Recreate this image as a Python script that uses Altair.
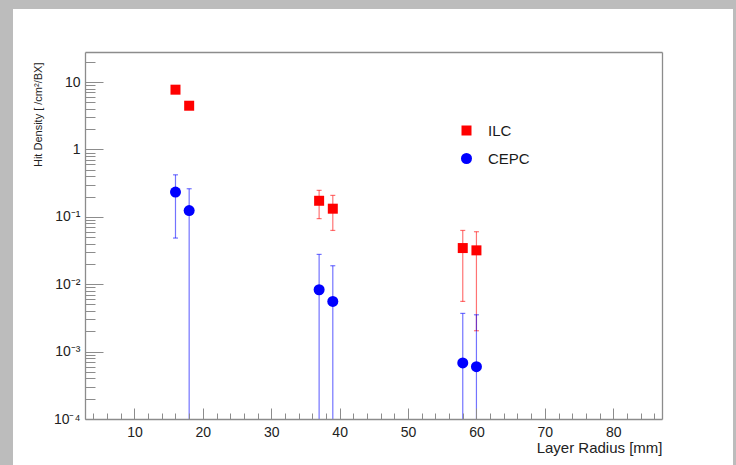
import altair as alt
import pandas as pd

# ---- data ----
radius = [16, 18, 37, 39, 58, 60]
ilc_density = [7.7, 4.45, 0.173, 0.132, 0.0344, 0.0318]
ilc_low = [7.7, 4.45, 0.094, 0.0628, 0.00556, 0.00204]
ilc_high = [7.7, 4.45, 0.247, 0.208, 0.0628, 0.0601]
cepc_density = [0.233, 0.124, 0.00828, 0.00556, 0.000678, 0.000597]
# 1e-6 = lower edge falls below the axis minimum (bar runs to the bottom)
cepc_low = [0.0484, 1e-6, 1e-6, 1e-6, 1e-6, 1e-6]
cepc_high = [0.42, 0.261, 0.0277, 0.0188, 0.00369, 0.00352]

series_names = ["ILC", "CEPC"]
series_colors = ["#ff0000", "#0000ff"]
series_shapes = ["square", "circle"]
series_sizes = [100, 121]

x_major = [10, 20, 30, 40, 50, 60, 70, 80]
x_minor = [v for v in range(4, 87, 2) if v % 10]
y_major = [1e-4, 1e-3, 1e-2, 1e-1, 1, 10]
y_major_labels = ["10⁻⁴", "10⁻³", "10⁻²", "10⁻¹", "1", "10"]
y_minor = [m * 10.0 ** e for e in range(-4, 2) for m in range(2, 10) if m * 10.0 ** e < 27.9]

rows = []
for i, r in enumerate(radius):
    rows.append(dict(series="ILC", x=r, v=ilc_density[i], lo=ilc_low[i], hi=ilc_high[i]))
for i, r in enumerate(radius):
    rows.append(dict(series="CEPC", x=r, v=cepc_density[i], lo=cepc_low[i], hi=cepc_high[i]))
df = pd.DataFrame(rows)

W, H = 577, 367
FONT = "Liberation Sans"
FRAME = "#8c8c8c"
TXT = "#222222"

x_scale = alt.Scale(domain=[2.77, 87.13], nice=False, zero=False)
y_scale = alt.Scale(type="log", domain=[1e-4, 27.9], nice=False)

# label expression built from the tick label arrays
label_expr = ""
for v, lab in zip(y_major, y_major_labels):
    label_expr += f"datum.value < {v * 3} ? '{lab}' : "
label_expr += "''"

base = alt.Chart(df)

# page panel (white sheet over grey shadow)
panel = alt.Chart(pd.DataFrame({"a": [0]})).mark_rect(color="white").encode(
    x=alt.value(-72), x2=alt.value(648), y=alt.value(-43), y2=alt.value(420)
)

layers = [panel]
for name, color in zip(series_names, series_colors):
    sub = base.transform_filter(alt.datum.series == name)
    layers.append(
        sub.mark_rule(clip=True, strokeWidth=1.2, opacity=0.55, color=color).encode(
            x=alt.X("x:Q", scale=x_scale, axis=None),
            y=alt.Y("lo:Q", scale=y_scale, axis=None),
            y2="hi:Q",
        )
    )
    for fld in ["lo", "hi"]:
        layers.append(
            sub.mark_tick(clip=True, orient="horizontal", size=5, thickness=1.2,
                          opacity=0.55, color=color).encode(
                x=alt.X("x:Q", scale=x_scale, axis=None),
                y=alt.Y(f"{fld}:Q", scale=y_scale, axis=None),
            )
        )

legend = alt.Legend(
    title=None, orient="none", legendX=374, legendY=71, padding=0,
    labelFont=FONT, labelFontSize=15, labelColor="#1a1a1a", labelOffset=14,
    rowPadding=12, symbolSize=85, symbolStrokeWidth=0,
)

points = base.mark_point(filled=True, opacity=1, strokeWidth=0, clip=True).encode(
    x=alt.X("x:Q", scale=x_scale, axis=alt.Axis(
        orient="bottom", values=x_major, ticks=False, domain=True,
        domainColor=FRAME, domainWidth=1.3, grid=False, zindex=1,
        labelPadding=6, labelFont=FONT, labelFontSize=14, labelColor=TXT,
        title="Layer Radius [mm]", titleFont=FONT, titleFontSize=15,
        titleFontWeight="normal", titleColor=TXT, titleAlign="right",
        titleAnchor="end", titleX=W, titleY=28, titleBaseline="middle")),
    y=alt.Y("v:Q", scale=y_scale, axis=alt.Axis(
        orient="left", values=y_major, labelExpr=label_expr, ticks=False,
        domain=True, domainColor=FRAME, domainWidth=1.3, grid=False, zindex=1,
        labelPadding=5, labelFont=FONT, labelFontSize=14, labelColor=TXT,
        title="Hit Density [ /cm²/BX]", titleFont=FONT, titleFontSize=11,
        titleFontWeight="normal", titleColor=TXT, titleAngle=-90,
        titleAlign="right", titleAnchor="end", titleX=-47, titleY=10,
        titleBaseline="middle")),
    color=alt.Color("series:N", scale=alt.Scale(domain=series_names, range=series_colors), legend=legend),
    shape=alt.Shape("series:N", scale=alt.Scale(domain=series_names, range=series_shapes), legend=legend),
    size=alt.Size("series:N", scale=alt.Scale(domain=series_names, range=series_sizes), legend=None),
)
layers.append(points)


def tick_layer(xvals, xlen, yvals, ylen):
    return base.mark_point(opacity=0).encode(
        x=alt.X("x:Q", scale=x_scale, axis=alt.Axis(
            orient="bottom", values=xvals, labels=False, domain=False, grid=False,
            ticks=True, tickSize=xlen, offset=-xlen, tickColor=FRAME, tickWidth=1,
            zindex=1, title=None)),
        y=alt.Y("v:Q", scale=y_scale, axis=alt.Axis(
            orient="left", values=yvals, labels=False, domain=False, grid=False,
            ticks=True, tickSize=ylen, offset=-ylen, tickColor=FRAME, tickWidth=1,
            zindex=1, title=None)),
    )


layers.append(tick_layer(x_major, 11, y_major, 18))
layers.append(tick_layer(x_minor, 6, y_minor, 10))

# top and right edges of the frame
frame_layer = base.mark_point(opacity=0).encode(
    x=alt.X("x:Q", scale=x_scale, axis=alt.Axis(
        orient="top", values=x_major, labels=False, ticks=False, grid=False,
        domain=True, domainColor=FRAME, domainWidth=1.3, zindex=1, title=None)),
    y=alt.Y("v:Q", scale=y_scale, axis=alt.Axis(
        orient="right", values=y_major, labels=False, ticks=False, grid=False,
        domain=True, domainColor=FRAME, domainWidth=1.3, zindex=1, title=None)),
)
layers.append(frame_layer)

chart = alt.layer(*layers).resolve_scale(
    x="shared", y="shared"
).resolve_axis(
    x="independent", y="independent"
).properties(
    width=W, height=H,
    autosize=alt.AutoSizeParams(type="none"),
    padding={"left": 85, "top": 52, "right": 74, "bottom": 46},
    background="#bcbcbc",
).configure_view(
    stroke=None
)

chart.save("out.html", embed_options={"renderer": "svg", "actions": False})
